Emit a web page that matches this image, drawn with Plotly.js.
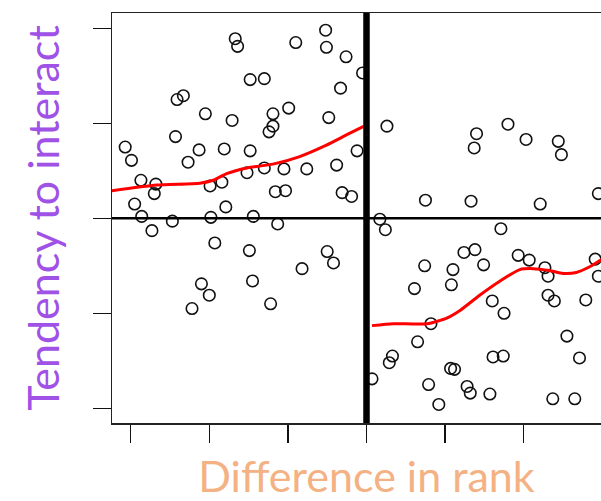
<!DOCTYPE html>
<html>
<head>
<meta charset="utf-8">
<script src="https://cdn.plot.ly/plotly-3.0.1.min.js"></script>
<style>
html, body { margin: 0; padding: 0; overflow: hidden; background: #fff; }
#chart { width: 640px; height: 501px; }
</style>
</head>
<body>
<div id="chart"></div>
<script>
// Scatter points: difference in rank (x) vs tendency to interact (y)
const pointsX = [
  -1.67, -1.64, -0.90, -0.52, -0.51, -0.26, -0.05, -1.48, -1.30, -2.41,
  -2.33, -0.33, -2.05, -1.71, -1.19, -0.99, -0.48, -1.19, -1.24, -2.43,
  -3.07, -2.99, -2.13, -1.81, -1.48, -0.12, -2.27, -0.38, -2.87, -2.68,
  -2.70, -1.52, -1.30, -1.05, -0.76, -1.99, -1.84, -1.16, -1.03, -0.31,
  -0.19, -2.95, -1.79, -2.86, -2.47, -1.98, -1.44, -2.73, -1.13, -1.93,
  -1.49, -0.50, -0.42, -0.82, -2.10, -2.00, -1.45, -2.22, -1.22,
  0.26, 1.40, 1.37, 1.80, 2.03, 2.44, 2.48, 0.75, 1.33, 2.21,
  2.95, 0.17, 0.24, 1.71, 0.74, 0.61, 1.10, 1.08, 1.24, 1.38,
  1.49, 1.93, 2.07, 2.27, 2.31, 2.31, 2.39, 2.91, 2.95, 2.79,
  1.60, 1.75, 0.82, 0.65, 0.33, 0.29, 0.07, 1.61, 1.74, 2.55,
  2.71, 1.07, 1.12, 0.79, 1.28, 1.32, 1.57, 0.92, 2.37, 2.65
];
const pointsY = [
  1.89, 1.81, 1.85, 1.98, 1.80, 1.70, 1.53, 1.46, 1.47, 1.25,
  1.29, 1.37, 1.10, 1.03, 1.10, 1.16, 1.06, 0.97, 0.91, 0.86,
  0.75, 0.61, 0.72, 0.73, 0.71, 0.71, 0.59, 0.56, 0.40, 0.36,
  0.26, 0.48, 0.53, 0.52, 0.52, 0.34, 0.38, 0.28, 0.29, 0.27,
  0.23, 0.15, 0.12, 0.02, -0.03, 0.01, 0.02, -0.13, -0.06, -0.26,
  -0.34, -0.35, -0.47, -0.53, -0.69, -0.81, -0.66, -0.95, -0.90,
  0.97, 0.89, 0.74, 0.99, 0.83, 0.81, 0.67, 0.19, 0.18, 0.15,
  0.26, -0.01, -0.12, -0.11, -0.50, -0.74, -0.54, -0.70, -0.36, -0.33,
  -0.49, -0.39, -0.44, -0.52, -0.61, -0.81, -0.87, -0.43, -0.61, -0.86,
  -0.87, -1.00, -1.11, -1.30, -1.45, -1.52, -1.69, -1.46, -1.45, -1.24,
  -1.47, -1.58, -1.59, -1.75, -1.77, -1.84, -1.85, -1.96, -1.90, -1.90
];

// Smoothed trend, negative side
const trendLeftX = [-3.24, -2.67, -2.12, -1.95, -1.78, -1.52, -1.19, -0.85, -0.51, -0.25, -0.03];
const trendLeftY = [0.29, 0.35, 0.37, 0.40, 0.47, 0.53, 0.57, 0.65, 0.77, 0.88, 0.97];

// Smoothed trend, positive side
const trendRightX = [0.07, 0.34, 0.77, 1.02, 1.19, 1.44, 1.70, 1.95, 2.12, 2.33, 2.50, 2.67, 2.84, 2.98, 3.24];
const trendRightY = [-1.13, -1.11, -1.11, -1.05, -0.97, -0.81, -0.66, -0.54, -0.53, -0.55, -0.58, -0.57, -0.51, -0.44, -0.28];

const xTicks = [-3, -2, -1, 0, 1, 2, 3];
const yTicks = [-2, -1, 0, 1, 2];

const xTitle = 'Difference in rank';
const yTitle = 'Tendency to interact';

const traces = [
  {
    x: pointsX, y: pointsY, type: 'scatter', mode: 'markers',
    marker: { symbol: 'circle-open', size: 11.5, color: '#111', line: { width: 1.6, color: '#111' } },
    hoverinfo: 'skip', showlegend: false, cliponaxis: true
  },
  {
    x: trendLeftX, y: trendLeftY, type: 'scatter', mode: 'lines',
    line: { color: '#ff0000', width: 3, shape: 'spline', smoothing: 0.6 },
    hoverinfo: 'skip', showlegend: false
  },
  {
    x: trendRightX, y: trendRightY, type: 'scatter', mode: 'lines',
    line: { color: '#ff0000', width: 3, shape: 'spline', smoothing: 0.6 },
    hoverinfo: 'skip', showlegend: false
  }
];

const layout = {
  width: 640, height: 501,
  margin: { l: 112, r: 19, t: 13, b: 78, pad: 0 },
  paper_bgcolor: '#fff', plot_bgcolor: '#fff',
  showlegend: false,
  xaxis: {
    range: [-3.238, 3.238], tickvals: xTicks, showticklabels: false,
    ticks: 'outside', ticklen: 18, tickwidth: 1.3, tickcolor: '#111',
    showgrid: false, zeroline: false,
    showline: true, mirror: true, linecolor: '#222', linewidth: 1.5,
    title: { text: xTitle, font: { family: 'Lato, "Open Sans", sans-serif', size: 43, color: '#f4b183' }, standoff: 24 }
  },
  yaxis: {
    range: [-2.155, 2.161], tickvals: yTicks, showticklabels: false,
    ticks: 'outside', ticklen: 18, tickwidth: 1.3, tickcolor: '#111',
    showgrid: false, zeroline: false,
    showline: true, mirror: true, linecolor: '#222', linewidth: 1.5,
    title: { text: yTitle, font: { family: 'Lato, "Open Sans", sans-serif', size: 43, color: '#a052e6' }, standoff: 19 }
  },
  shapes: [
    { type: 'line', xref: 'x', yref: 'paper', x0: 0, x1: 0, y0: 0, y1: 1, line: { color: '#000', width: 6.5 }, layer: 'above' },
    { type: 'line', xref: 'paper', yref: 'y', x0: 0, x1: 1, y0: 0, y1: 0, line: { color: '#000', width: 2.5 }, layer: 'above' }
  ]
};

Plotly.newPlot('chart', traces, layout, { staticPlot: true, displayModeBar: false });
</script>
</body>
</html>
